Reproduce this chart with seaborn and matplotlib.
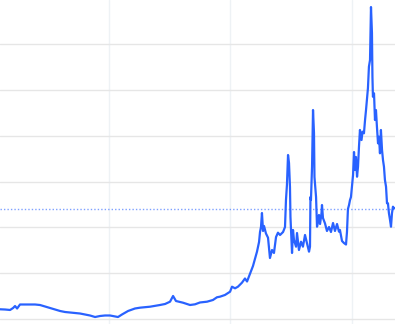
import matplotlib
matplotlib.use("Agg")
import matplotlib.pyplot as plt
import seaborn as sns
import pandas as pd

# Decimal-year time stamps
years = [
    1991.01, 1991.43, 1991.84, 1992.09, 1992.25, 1992.42, 1992.66, 1993.08, 1993.49, 1993.90,
    1994.31, 1994.72, 1995.14, 1995.55, 1995.96, 1996.37, 1996.79, 1997.20, 1997.61, 1998.02,
    1998.43, 1998.85, 1999.26, 1999.67, 2000.08, 2000.50, 2000.74, 2001.07, 2001.57, 2002.14,
    2002.56, 2003.38, 2004.20, 2004.62, 2005.03, 2005.28, 2005.52, 2006.10, 2006.68, 2007.09,
    2007.50, 2008.08, 2008.57, 2008.90, 2009.15, 2009.56, 2009.98, 2010.14, 2010.39, 2010.63,
    2010.96, 2011.21, 2011.38, 2011.62, 2011.87, 2012.04, 2012.20, 2012.37, 2012.45, 2012.53,
    2012.61, 2012.70, 2012.78, 2012.94, 2013.11, 2013.27, 2013.44, 2013.60, 2013.77, 2013.93,
    2014.10, 2014.35, 2014.51, 2014.59, 2014.67, 2014.76, 2014.84, 2014.92, 2014.96, 2015.09,
    2015.17, 2015.25, 2015.42, 2015.50, 2015.66, 2015.83, 2015.99, 2016.16, 2016.32, 2016.49,
    2016.57, 2016.61, 2016.65, 2016.74, 2016.82, 2016.90, 2016.94, 2017.07, 2017.15, 2017.23,
    2017.31, 2017.40, 2017.52, 2017.56, 2017.64, 2017.81, 2017.97, 2018.14, 2018.30, 2018.47,
    2018.63, 2018.80, 2018.96, 2019.04, 2019.21, 2019.37, 2019.54, 2019.62, 2019.70, 2019.79,
    2019.87, 2019.95, 2020.12, 2020.20, 2020.28, 2020.36, 2020.45, 2020.53, 2020.61, 2020.69,
    2020.82, 2020.90, 2021.02, 2021.11, 2021.19, 2021.35, 2021.43, 2021.52, 2021.60, 2021.68,
    2021.72, 2021.76, 2021.85, 2021.93, 2022.01, 2022.09, 2022.18, 2022.26, 2022.34, 2022.42,
    2022.51, 2022.59, 2022.67, 2022.75, 2022.84, 2022.92, 2023.00, 2023.08, 2023.17, 2023.25,
    2023.33, 2023.41, 2023.50, 2023.58,
]

# Series values
values = [
    2.22, 2.17, 2.07, 2.50, 2.93, 2.39, 3.26, 3.26, 3.26, 3.26,
    3.15, 2.83, 2.50, 2.17, 1.85, 1.63, 1.52, 1.41, 1.30, 1.09,
    0.87, 0.54, 0.76, 0.87, 0.87, 0.65, 0.54, 1.09, 1.85, 2.39,
    2.57, 2.78, 3.15, 3.37, 3.87, 5.11, 4.02, 3.65, 3.15, 3.30,
    3.70, 3.87, 4.24, 4.83, 4.96, 5.33, 6.04, 7.13, 6.78, 7.13,
    8.00, 8.91, 8.26, 9.89, 11.63, 13.26, 14.74, 16.85, 19.02, 20.11,
    23.15, 19.24, 20.33, 18.70, 17.78, 13.37, 15.11, 14.46, 17.93, 18.87,
    18.37, 19.02, 20.11, 25.98, 29.24, 35.76, 34.02, 28.80, 22.28, 14.46,
    19.46, 17.28, 15.83, 18.80, 15.11, 16.91, 15.83, 18.37, 16.57, 14.74,
    15.83, 26.63, 25.98, 33.22, 45.54, 40.54, 30.98, 26.63, 20.17, 21.26,
    22.72, 20.76, 23.15, 24.89, 22.07, 20.87, 19.24, 20.11, 19.02, 20.98,
    19.24, 20.76, 19.09, 19.46, 17.07, 16.63, 16.30, 19.02, 24.02, 24.89,
    25.98, 26.63, 31.41, 36.41, 32.50, 35.33, 31.04, 33.22, 37.57, 41.20,
    39.02, 40.83, 40.48, 43.37, 45.54, 50.33, 54.96, 56.41, 67.93, 62.28,
    52.72, 48.43, 49.17, 43.37, 45.54, 41.91, 38.30, 39.74, 36.13, 41.20,
    36.85, 34.67, 33.22, 30.33, 28.87, 25.26, 25.26, 23.09, 21.63, 20.17,
    23.09, 24.52, 24.17, 24.24,
]

last_value_line = 24.1
x_grid = [2000, 2010, 2020]
y_grid = [0, 10, 20, 30, 40, 50, 60]

df = pd.DataFrame({"year": years, "value": values})

sns.set_style("white")
fig = plt.figure(figsize=(3.95, 3.24), dpi=100)
ax = fig.add_axes([0, 0, 1, 1])

for gx in x_grid:
    ax.axvline(gx, color="#eef2f5", lw=1.0, zorder=0)
for gy in y_grid:
    ax.axhline(gy, color="#e6e6e6", lw=1.0, zorder=0)

ax.axhline(last_value_line, color="#2962ff", lw=1.0, ls=(0, (1, 1.5)), alpha=0.6, zorder=1)

sns.lineplot(data=df, x="year", y="value", ax=ax, color="#2962ff", lw=1.6, zorder=2)

ax.set_xlim(1991.01, 2023.58)
ax.set_ylim(-0.98, 69.46)
ax.set_xticks([])
ax.set_yticks([])
ax.set_xlabel("")
ax.set_ylabel("")
for s in ax.spines.values():
    s.set_visible(False)

fig.savefig("out.png", dpi=100)
